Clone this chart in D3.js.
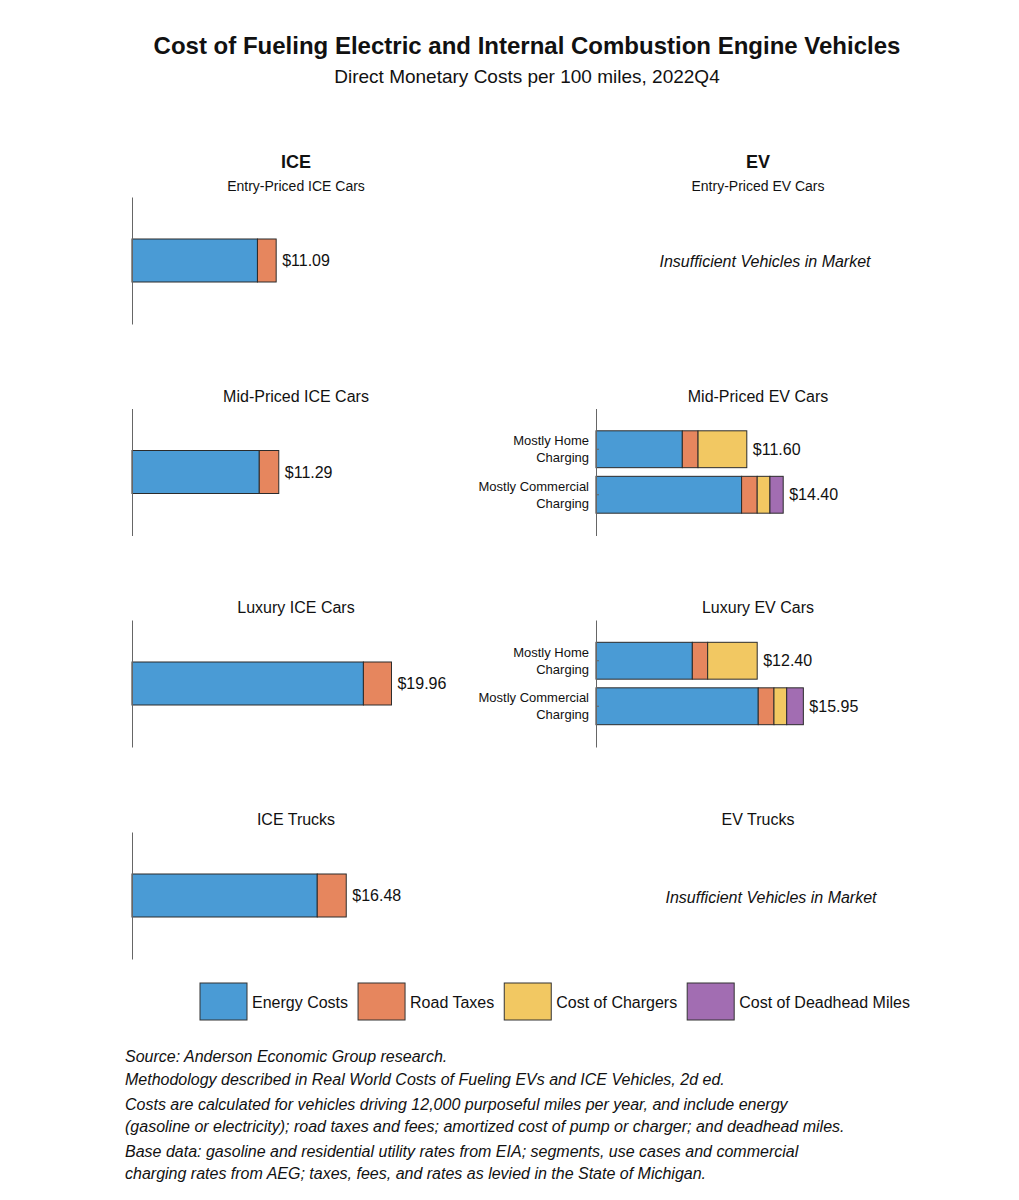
<!DOCTYPE html>
<html>
<head>
<meta charset="utf-8">
<script src="https://cdn.jsdelivr.net/npm/d3@7"></script>
<style>
  body { margin: 0; background: #fff; }
  svg text { font-family: "Liberation Sans", Arial, Helvetica, sans-serif; fill: #111; }
  .note { font-style: italic; }
</style>
</head>
<body>
<div id="chart"></div>
<script>
// ---------- data ----------
const segments = ['Energy Costs', 'Road Taxes', 'Cost of Chargers', 'Cost of Deadhead Miles'];
const segColors = ['#4a9bd5', '#e6865e', '#f2c862', '#a26db2'];

const iceTitles = ['Entry-Priced ICE Cars', 'Mid-Priced ICE Cars', 'Luxury ICE Cars', 'ICE Trucks'];
const iceEnergy = [9.65, 9.79, 17.80, 14.25];
const iceRoad = [1.44, 1.50, 2.16, 2.23];
const iceTotals = ['$11.09', '$11.29', '$19.96', '$16.48'];

const evTitles = ['Entry-Priced EV Cars', 'Mid-Priced EV Cars', 'Luxury EV Cars', 'EV Trucks'];
const evCases = ['Mostly Home Charging', 'Mostly Commercial Charging'];
const evCaseLines = [['Mostly Home', 'Charging'], ['Mostly Commercial', 'Charging']];

const evMidEnergy = [6.64, 11.20];
const evMidRoad = [1.21, 1.20];
const evMidChargers = [3.75, 0.98];
const evMidDeadhead = [0, 1.02];
const evMidTotals = ['$11.60', '$14.40'];

const evLuxEnergy = [7.41, 12.48];
const evLuxRoad = [1.18, 1.21];
const evLuxChargers = [3.81, 0.98];
const evLuxDeadhead = [0, 1.28];
const evLuxTotals = ['$12.40', '$15.95'];

const noData = 'Insufficient Vehicles in Market';

const notes = [
  'Source: Anderson Economic Group research.',
  'Methodology described in Real World Costs of Fueling EVs and ICE Vehicles, 2d ed.',
  'Costs are calculated for vehicles driving 12,000 purposeful miles per year, and include energy',
  '(gasoline or electricity); road taxes and fees; amortized cost of pump or charger; and deadhead miles.',
  'Base data: gasoline and residential utility rates from EIA; segments, use cases and commercial',
  'charging rates from AEG; taxes, fees, and rates as levied in the State of Michigan.'
];

// ---------- layout ----------
const W = 1019, H = 1200;
const svg = d3.select('#chart').append('svg').attr('width', W).attr('height', H);
svg.append('rect').attr('width', W).attr('height', H).attr('fill', '#fff');

const iceX0 = 132, evX0 = 596, axW = 325, axH = 127;
const iceCenter = 296, evCenter = 758;
const panelTops = [197, 408.5, 620, 832];

const x = d3.scaleLinear().domain([0, 25]).range([0, axW]);
const color = d3.scaleOrdinal().domain(segments).range(segColors);

// titles
svg.append('text').attr('x', 527).attr('y', 54).attr('text-anchor', 'middle')
  .style('font-size', '24px').style('font-weight', 'bold')
  .text('Cost of Fueling Electric and Internal Combustion Engine Vehicles');
svg.append('text').attr('x', 527).attr('y', 83).attr('text-anchor', 'middle')
  .style('font-size', '19px')
  .text('Direct Monetary Costs per 100 miles, 2022Q4');

svg.append('text').attr('x', iceCenter).attr('y', 168).attr('text-anchor', 'middle')
  .style('font-size', '18px').style('font-weight', 'bold').text('ICE');
svg.append('text').attr('x', evCenter).attr('y', 168).attr('text-anchor', 'middle')
  .style('font-size', '18px').style('font-weight', 'bold').text('EV');

function panelTitle(cx, top, text, i) {
  svg.append('text').attr('x', cx).attr('y', i === 0 ? top - 6 : top - 7)
    .attr('text-anchor', 'middle')
    .style('font-size', i === 0 ? '14px' : '16px')
    .text(text);
}

// stacked rows -> d3.stack
function drawPanel(x0, top, cats, rows, totals, withTicks) {
  const g = svg.append('g').attr('transform', `translate(${x0},${top})`);
  const single = cats.length === 1;
  const y = d3.scaleBand().domain(cats).range([0, axH])
    .paddingInner(single ? 0 : 0.19)
    .paddingOuter(single ? 0.977 : 0.49);

  const stacked = d3.stack().keys(segments)(rows);

  g.selectAll('.layer')
    .data(stacked)
    .join('g')
    .attr('class', 'layer')
    .attr('fill', d => color(d.key))
    .selectAll('rect')
    .data(d => d.filter(p => p[1] - p[0] > 0))
    .join('rect')
    .attr('x', d => x(d[0]))
    .attr('width', d => x(d[1]) - x(d[0]))
    .attr('y', d => y(d.data.cat))
    .attr('height', y.bandwidth())
    .attr('stroke', '#2b2b2b')
    .attr('stroke-width', 1);

  g.selectAll('.total')
    .data(rows)
    .join('text')
    .attr('class', 'total')
    .attr('x', d => x(d3.sum(segments, k => d[k])) + 6)
    .attr('y', d => y(d.cat) + y.bandwidth() / 2)
    .attr('dy', '0.35em')
    .style('font-size', '16px')
    .text((d, i) => totals[i]);

  const axis = d3.axisLeft(y).tickSizeOuter(0).tickSizeInner(withTicks ? -3 : 0).tickFormat('');
  if (!withTicks) axis.tickValues([]);
  const ag = g.append('g').call(axis);
  ag.select('.domain').attr('stroke', '#666');
  ag.selectAll('.tick line').attr('stroke', '#666');

  if (withTicks) {
    cats.forEach((c, i) => {
      const t = g.append('text')
        .attr('x', -7)
        .attr('y', y(c) + y.bandwidth() / 2 - 8)
        .attr('text-anchor', 'end')
        .style('font-size', '13px');
      t.selectAll('tspan').data(evCaseLines[i]).join('tspan')
        .attr('x', -7)
        .attr('dy', (d, j) => j === 0 ? '0.3em' : '1.3em')
        .text(d => d);
    });
  }
}

// ICE column
iceTitles.forEach((t, i) => {
  panelTitle(iceCenter, panelTops[i], t, i);
  drawPanel(iceX0, panelTops[i], ['ICE'],
    [{ cat: 'ICE', 'Energy Costs': iceEnergy[i], 'Road Taxes': iceRoad[i], 'Cost of Chargers': 0, 'Cost of Deadhead Miles': 0 }],
    [iceTotals[i]], false);
});

// EV column
evTitles.forEach((t, i) => panelTitle(evCenter, panelTops[i], t, i));

function evRows(energy, road, chargers, deadhead) {
  return evCases.map((c, i) => ({
    cat: c,
    'Energy Costs': energy[i],
    'Road Taxes': road[i],
    'Cost of Chargers': chargers[i],
    'Cost of Deadhead Miles': deadhead[i]
  }));
}
drawPanel(evX0, panelTops[1], evCases, evRows(evMidEnergy, evMidRoad, evMidChargers, evMidDeadhead), evMidTotals, true);
drawPanel(evX0, panelTops[2], evCases, evRows(evLuxEnergy, evLuxRoad, evLuxChargers, evLuxDeadhead), evLuxTotals, true);

[[765, panelTops[0] + 64], [771, panelTops[3] + 65]].forEach(p => {
  svg.append('text').attr('x', p[0]).attr('y', p[1]).attr('dy', '0.35em')
    .attr('text-anchor', 'middle')
    .style('font-size', '16px').style('font-style', 'italic')
    .text(noData);
});

// legend
const legend = svg.append('g').attr('transform', 'translate(200,983)');
let lx = 0;
segments.forEach((s, i) => {
  const item = legend.append('g').attr('transform', `translate(${lx},0)`);
  item.append('rect').attr('width', 47).attr('height', 37)
    .attr('fill', color(s)).attr('stroke', '#333').attr('stroke-width', 1);
  const t = item.append('text').attr('x', 52).attr('y', 19).attr('dy', '0.35em')
    .style('font-size', '16px').text(s);
  lx += 52 + t.node().getComputedTextLength() + 10;
});

// notes
const noteY = [1062, 1085, 1110, 1132, 1157, 1179];
notes.forEach((n, i) => {
  svg.append('text').attr('class', 'note')
    .attr('x', 125).attr('y', noteY[i])
    .style('font-size', '16px')
    .text(n);
});
</script>
</body>
</html>
